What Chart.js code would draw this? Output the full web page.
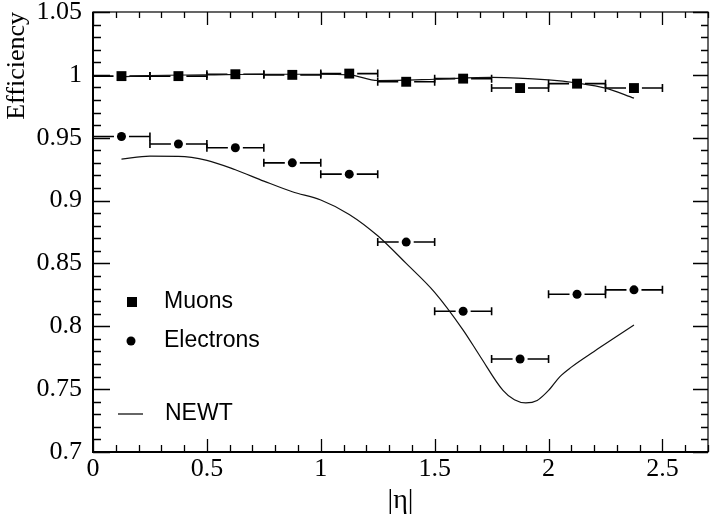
<!DOCTYPE html>
<html>
<head>
<meta charset="utf-8">
<title>Efficiency vs |eta|</title>
<script src="https://cdn.jsdelivr.net/npm/chart.js@4.4.1/dist/chart.umd.min.js"></script>
<style>
  html, body { margin: 0; padding: 0; background: #fff; }
  #wrap { width: 718px; height: 517px; position: relative; }
</style>
</head>
<body>
<div id="wrap"><canvas id="effChart"></canvas></div>
<script>
// bins in |eta|
const binEdges = [0, 0.25, 0.5, 0.75, 1.0, 1.25, 1.5, 1.75, 2.0, 2.25, 2.5];
const etaCenters = [0.125, 0.375, 0.625, 0.875, 1.125, 1.375, 1.625, 1.875, 2.125, 2.375];

// measured efficiencies
const muonEff = [0.999, 0.999, 1.0005, 1.0, 1.001, 0.9945, 0.997, 0.9895, 0.993, 0.9895];
const electronEff = [0.951, 0.945, 0.942, 0.930, 0.921, 0.867, 0.812, 0.774, 0.8255, 0.829];

// NEWT curves
const newtMuonEta = [0.125, 0.25, 0.5, 0.75, 1.0, 1.125, 1.25, 1.5, 1.75, 2.0, 2.125, 2.25, 2.375];
const newtMuonEff = [0.9985, 0.9995, 1.0, 1.0005, 1.0005, 1.0, 0.9955, 0.9965, 0.998, 0.996, 0.9935, 0.9895, 0.9815];
const newtElecEta = [0.125, 0.25, 0.375, 0.5, 0.625, 0.75, 0.875, 1.0, 1.125, 1.25, 1.375, 1.5, 1.625, 1.7, 1.8, 1.85, 1.9, 1.95, 2.0, 2.05, 2.1, 2.2, 2.3, 2.375];
const newtElecEff = [0.933, 0.9353, 0.9352, 0.932, 0.9245, 0.9155, 0.907, 0.9005, 0.889, 0.872, 0.850, 0.827, 0.797, 0.776, 0.749, 0.7415, 0.739, 0.741, 0.749, 0.760, 0.7675, 0.780, 0.792, 0.801];

// axis ticks
const xTicks = [0, 0.5, 1, 1.5, 2, 2.5];
const yTicks = [0.7, 0.75, 0.8, 0.85, 0.9, 0.95, 1, 1.05];

const toXY = (xs, ys) => xs.map((x, i) => ({ x, y: ys[i] }));
const SERIF = '"Liberation Serif", "Times New Roman", serif';
const SANS = '"Liberation Sans", Arial, sans-serif';

const SQUARE_R = 7;
const CIRCLE_R = 4.5;

// horizontal bin-width bars with end caps, frame with inward ticks, legend
const decorPlugin = {
  id: 'decor',
  beforeDatasetsDraw(chart) {
    const { ctx, scales: { x, y } } = chart;
    ctx.save();
    ctx.strokeStyle = '#000';
    ctx.lineWidth = 1.6;
    const sets = [[muonEff, SQUARE_R * Math.SQRT1_2], [electronEff, CIRCLE_R]];
    sets.forEach(([vals, half]) => {
      vals.forEach((v, i) => {
        const xl = x.getPixelForValue(binEdges[i]);
        const xh = x.getPixelForValue(binEdges[i + 1]);
        const xc = x.getPixelForValue(etaCenters[i]);
        const yp = y.getPixelForValue(v);
        const gap = half + 3;
        ctx.beginPath();
        ctx.moveTo(xl, yp); ctx.lineTo(xc - gap, yp);
        ctx.moveTo(xc + gap, yp); ctx.lineTo(xh, yp);
        ctx.moveTo(xl, yp - 4); ctx.lineTo(xl, yp + 4);
        ctx.moveTo(xh, yp - 4); ctx.lineTo(xh, yp + 4);
        ctx.stroke();
      });
    });
    ctx.restore();
  },
  afterDraw(chart) {
    const { ctx, chartArea: a, scales: { x, y } } = chart;
    ctx.save();
    ctx.strokeStyle = '#000';

    // frame
    ctx.lineWidth = 1.2;
    ctx.strokeRect(a.left, a.top, a.right - a.left, a.bottom - a.top);
    ctx.lineWidth = 2;
    ctx.beginPath();
    ctx.moveTo(a.left, a.top); ctx.lineTo(a.left, a.bottom); ctx.lineTo(a.right, a.bottom);
    ctx.stroke();

    ctx.lineWidth = 1.3;
    ctx.beginPath();
    // y ticks, left and right
    for (let k = 70; k <= 105; k++) {
      const yp = Math.round(y.getPixelForValue(k / 100)) + 0.5;
      const major = k % 5 === 0;
      const lenL = major ? 17 : 8;
      const lenR = major ? 15 : 7;
      ctx.moveTo(a.left, yp); ctx.lineTo(a.left + lenL, yp);
      ctx.moveTo(a.right, yp); ctx.lineTo(a.right - lenR, yp);
    }
    // x ticks, bottom and top
    for (let k = 0; k <= 27; k++) {
      const xp = Math.round(x.getPixelForValue(k / 10)) + 0.5;
      const major = k % 5 === 0;
      const lenB = major ? 13 : 7;
      const lenT = major ? 13 : 6;
      ctx.moveTo(xp, a.bottom); ctx.lineTo(xp, a.bottom - lenB);
      ctx.moveTo(xp, a.top); ctx.lineTo(xp, a.top + lenT);
    }
    ctx.stroke();

    // legend
    ctx.fillStyle = '#000';
    ctx.fillRect(132 - 5, 302 - 5, 10, 10);
    ctx.beginPath();
    ctx.arc(131, 341, CIRCLE_R, 0, Math.PI * 2);
    ctx.fill();
    ctx.lineWidth = 1.2;
    ctx.beginPath();
    ctx.moveTo(118, 414); ctx.lineTo(143, 414);
    ctx.stroke();
    ctx.font = '23px ' + SANS;
    ctx.textBaseline = 'middle';
    ctx.textAlign = 'left';
    ctx.fillText('Muons', 164, 302);
    ctx.fillText('Electrons', 164, 341);
    ctx.fillText('NEWT', 165, 414);
    ctx.restore();
  }
};

const plainNumber = v => String(Math.round(v * 1000) / 1000);

new Chart(document.getElementById('effChart'), {
  type: 'scatter',
  data: {
    datasets: [
      {
        label: 'Muons',
        data: toXY(etaCenters, muonEff),
        pointStyle: 'rect',
        pointRadius: SQUARE_R,
        backgroundColor: '#000',
        borderColor: '#000',
        borderWidth: 0,
        order: 1
      },
      {
        label: 'Electrons',
        data: toXY(etaCenters, electronEff),
        pointStyle: 'circle',
        pointRadius: CIRCLE_R,
        backgroundColor: '#000',
        borderColor: '#000',
        borderWidth: 0,
        order: 1
      },
      {
        label: 'NEWT',
        data: toXY(newtMuonEta, newtMuonEff),
        showLine: true,
        pointRadius: 0,
        borderColor: '#111',
        borderWidth: 1.2,
        cubicInterpolationMode: 'monotone',
        order: 2
      },
      {
        label: 'NEWT electrons',
        data: toXY(newtElecEta, newtElecEff),
        showLine: true,
        pointRadius: 0,
        borderColor: '#111',
        borderWidth: 1.2,
        cubicInterpolationMode: 'monotone',
        order: 2
      }
    ]
  },
  options: {
    responsive: true,
    maintainAspectRatio: false,
    animation: false,
    layout: { padding: { top: 12, right: 10, left: 0, bottom: 0 } },
    plugins: {
      legend: { display: false },
      tooltip: { enabled: false }
    },
    scales: {
      x: {
        type: 'linear',
        min: 0,
        max: 2.7,
        grid: { display: false, drawTicks: false },
        border: { display: false },
        afterBuildTicks(scale) { scale.ticks = xTicks.map(v => ({ value: v })); },
        afterFit(scale) { scale.height = 65; scale.paddingLeft = 0; scale.paddingRight = 0; },
        ticks: {
          padding: 2,
          color: '#000',
          maxRotation: 0,
          callback: plainNumber,
          font: { family: SERIF, size: 26, lineHeight: 1.2 }
        },
        title: {
          display: true,
          text: '|η|',
          color: '#000',
          align: 'center',
          padding: { top: 0, bottom: 0 },
          font: { family: SERIF, size: 28, lineHeight: 1.2 }
        }
      },
      y: {
        type: 'linear',
        min: 0.7,
        max: 1.05,
        grid: { display: false, drawTicks: false },
        border: { display: false },
        afterBuildTicks(scale) { scale.ticks = yTicks.map(v => ({ value: v })); },
        afterFit(scale) { scale.width = 93; scale.paddingTop = 0; scale.paddingBottom = 0; },
        ticks: {
          padding: 11,
          color: '#000',
          callback: plainNumber,
          font: { family: SERIF, size: 26, lineHeight: 1.2 }
        },
        title: {
          display: true,
          text: 'Efficiency',
          color: '#000',
          align: 'end',
          padding: { top: 2, bottom: 0 },
          font: { family: SERIF, size: 26, lineHeight: 1.2 }
        }
      }
    }
  },
  plugins: [decorPlugin]
});
</script>
</body>
</html>
